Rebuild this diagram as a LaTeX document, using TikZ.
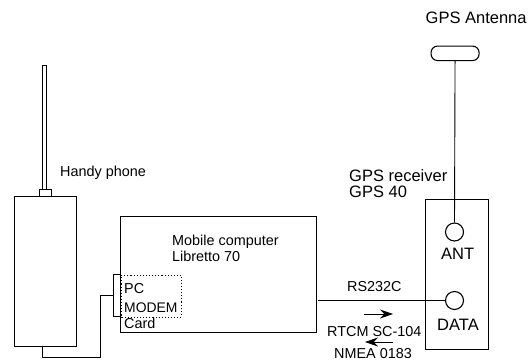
\documentclass[tikz,border=0pt]{standalone}
\usepackage{fontspec}
\usetikzlibrary{arrows.meta}
\setmainfont{Liberation Sans}
\begin{document}
\begin{tikzpicture}[x=1pt,y=-1pt,
  box/.style={draw,line width=1.1pt,inner sep=0pt,anchor=north west},
  wire/.style={draw,line width=0.9pt},
  port/.style={draw,circle,line width=1.1pt,minimum size=18pt,inner sep=0pt},
  lab/.style={inner sep=0pt,anchor=base west,font=\fontsize{16.5}{16.5}\selectfont},
  midlab/.style={inner sep=0pt,anchor=base west,font=\fontsize{14.4}{14.4}\selectfont},
  flow/.style={line width=0.8pt,-{Stealth[length=13pt,width=9pt]}}]
\useasboundingbox (0,0) rectangle (529,359);
\clip (0,0) rectangle (529,359);
% handy phone
\node[box,minimum width=62pt,minimum height=150pt] (phone) at (14,195.5) {};
\node[box,minimum width=12pt,minimum height=6.5pt] (jack) at (38.5,189) {};
\node[box,line width=0.9pt,minimum width=4pt,minimum height=124pt] (whip) at (42,65) {};
\node[midlab] (handy) at (60,176) {Handy phone};
% computer
\node[box,minimum width=196pt,minimum height=116pt] (pc) at (120,216) {};
\node[box,minimum width=7pt,minimum height=42pt] (card) at (113,274) {};
\node[box,dotted,line width=0.9pt,minimum width=60pt,minimum height=42pt] (modem) at (121,274.5) {};
\node[midlab] (mobile) at (172,245) {Mobile computer};
\node[midlab] (lib) at (172,261) {Libretto 70};
\node[midlab] (pctxt) at (124,293) {PC};
\node[midlab,font=\fontsize{13.9}{13.9}\selectfont] (modemtxt) at (124,312) {MODEM};
\node[midlab] (cardtxt) at (124,328) {Card};
\coordinate (cardin) at (113,295);
\coordinate (cabledown) at (42.5,357.5);
\coordinate (cablecorner) at (100,357.5);
\coordinate (cableup) at (100,295);
\draw[wire] (42.5,345.5) -- (cabledown) -- (cablecorner) -- (cableup) -- (cardin);
% GPS
\node[draw,rounded corners=6.5pt,line width=1.1pt,minimum width=48pt,minimum height=14.5pt,inner sep=0pt,anchor=north west] (antenna) at (430.5,45.5) {};
\node[box,minimum width=63pt,minimum height=150pt] (rx) at (425,199) {};
\node[port] (ant) at (454.5,232) {};
\node[port] (data) at (454.5,300.5) {};
\draw[wire] (antenna.south) -- (ant.north);
\coordinate (rsend) at (318,300.5);
\draw[wire] (rsend) -- (data.west);
\node[lab] (gpsant) at (425.5,23.5) {GPS Antenna};
\node[lab] (gpsrx) at (349,181) {GPS receiver};
\node[lab] (gps40) at (349,197) {GPS 40};
\node[lab] (anttxt) at (441,259) {ANT};
\node[lab] (datatxt) at (437,330) {DATA};
\node[midlab] (rs) at (347,291) {RS232C};
\node[midlab] (rtcm) at (327,336) {RTCM SC-104};
\node[midlab] (nmea) at (334,358.8) {NMEA 0183};
\coordinate (a1) at (364,314);
\coordinate (a2) at (393,314);
\coordinate (b1) at (393,342);
\coordinate (b2) at (365,342);
\draw[flow] (a1) -- (a2);
\draw[flow] (b1) -- (b2);
\end{tikzpicture}
\end{document}
